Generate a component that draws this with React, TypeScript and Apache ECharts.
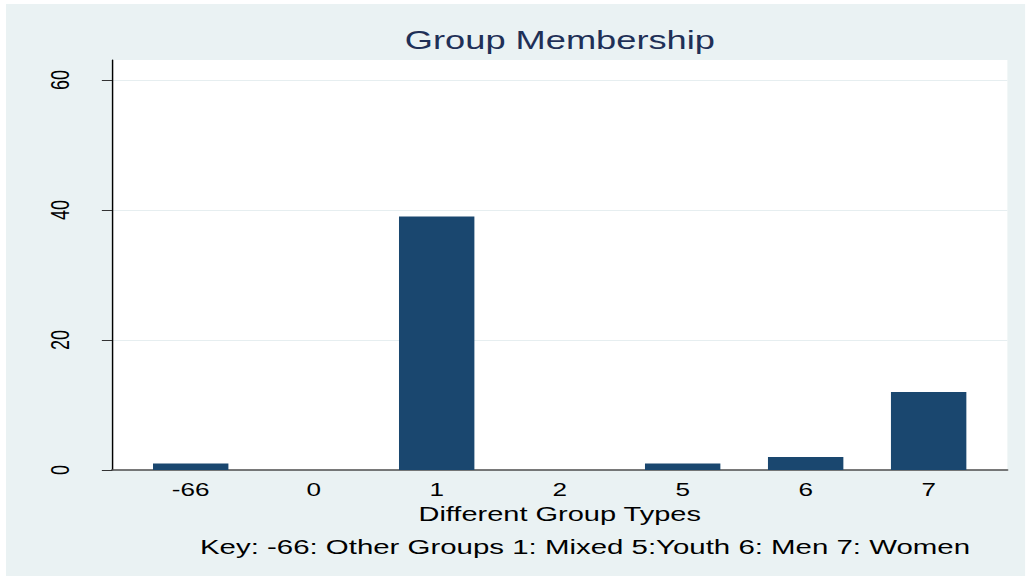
import React, { useEffect, useRef } from "react";
import * as echarts from "echarts";

const categories = ["-66", "0", "1", "2", "5", "6", "7"];
const counts = [1, 0, 39, 0, 1, 2, 12];
const yTicks = [0, 20, 40, 60];
const titleText = "Group Membership";
const xName = "Different Group Types";
const keyNote = "Key: -66: Other Groups 1: Mixed 5:Youth 6: Men 7: Women";

const S = 1.45; // horizontal stretch of the original image
const OUT_W = 1020;
const OUT_H = 572;
const W = OUT_W / S;
const FONT = '"Liberation Sans", Arial, Helvetica, sans-serif';

export default function App() {
  const ref = useRef<HTMLDivElement>(null);
  useEffect(() => {
    if (!ref.current) return;
    const chart = echarts.init(ref.current, undefined, { renderer: "svg" });
    const idx = categories.map((_, i) => i);
    chart.setOption({
      animation: false,
      backgroundColor: "#eaf2f3",
      textStyle: { fontFamily: FONT },
      grid: {
        left: 73.1,
        right: 12.4,
        top: 56,
        bottom: 106,
        show: true,
        backgroundColor: "#ffffff",
        borderWidth: 0,
      },
      xAxis: {
        type: "value",
        min: -0.64,
        max: 6.64,
        axisLine: { show: true, onZero: false, lineStyle: { color: "#4d4d4d", width: 1.5 } },
        axisTick: { show: false },
        splitLine: { show: false },
        axisLabel: {
          customValues: idx,
          formatter: (v: number) => categories[Math.round(v)] ?? "",
          fontSize: 18,
          color: "#000",
          margin: 11,
          fontFamily: FONT,
        },
        name: xName,
        nameLocation: "middle",
        nameGap: 30,
        nameTextStyle: { fontSize: 20, color: "#000", fontFamily: FONT },
      },
      yAxis: {
        type: "value",
        min: 0,
        max: 63.08,
        interval: 20,
        axisLine: { show: true, onZero: false, lineStyle: { color: "#000", width: 1 } },
        axisTick: { show: true, length: 7, customValues: yTicks, lineStyle: { color: "#333" } },
        axisLabel: {
          customValues: yTicks,
          rotate: 90,
          fontSize: 18,
          color: "#000",
          margin: 27,
          fontFamily: FONT,
        },
        splitLine: {
          show: true,
          showMinLine: false,
          showMaxLine: true,
          lineStyle: { color: "#e6eef0", width: 1 },
        },
      },
      series: [
        {
          type: "bar",
          data: counts.map((c, i) => [i, c]),
          barWidth: 52,
          itemStyle: { color: "#1a476f" },
        },
      ],
      graphic: [
        {
          type: "text",
          x: 382,
          y: 36.5,
          style: {
            text: titleText,
            fontSize: 25,
            fontFamily: FONT,
            fill: "#1f3057",
            align: "center",
            verticalAlign: "middle",
          },
        },
        {
          type: "text",
          x: 399.3,
          y: 542.5,
          style: {
            text: keyNote,
            fontSize: 20.3,
            fontFamily: FONT,
            fill: "#000",
            align: "center",
            verticalAlign: "middle",
          },
        },
      ],
    });
    return () => chart.dispose();
  }, []);

  return (
    <div
      style={{
        position: "fixed",
        left: 0,
        top: 0,
        width: 1026,
        height: 576,
        background: "#ffffff",
        overflow: "hidden",
      }}
    >
      <div
        ref={ref}
        style={{
          position: "absolute",
          left: 6,
          top: 4,
          width: W,
          height: OUT_H,
          transform: `scale(${S}, 1)`,
          transformOrigin: "0 0",
        }}
      />
    </div>
  );
}
